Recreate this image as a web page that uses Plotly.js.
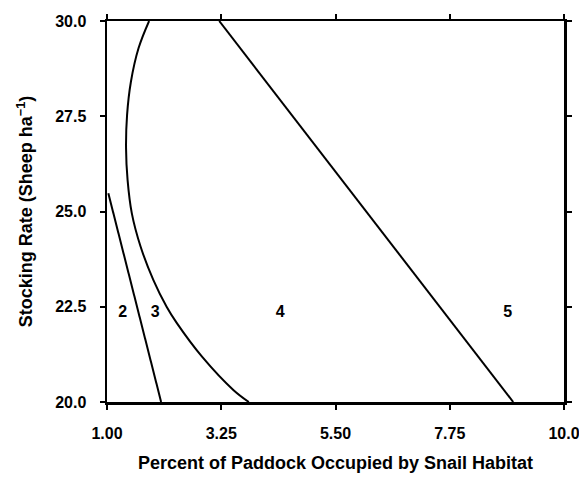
<!DOCTYPE html>
<html>
<head>
<meta charset="utf-8">
<script src="https://cdn.plot.ly/plotly-3.0.1.min.js"></script>
<style>html,body{margin:0;padding:0;background:#fff;}#chart{width:579px;height:478px;}</style>
</head>
<body>
<div id="chart"></div>
<script>
// Boundary between regions 2 and 3
const line2X = [1.026, 1.586, 2.066];
const line2Y = [25.48, 22.50, 20.00];
// Boundary between regions 3 and 4
const curve3X = [1.829, 1.622, 1.470, 1.395, 1.375, 1.405, 1.489, 1.661, 1.914, 2.174, 2.376, 2.871, 3.493, 3.793];
const curve3Y = [30.00, 29.29, 28.40, 27.53, 26.67, 25.83, 24.95, 24.08, 23.20, 22.50, 22.07, 21.19, 20.31, 20.00];
// Boundary between regions 4 and 5
const line4X = [3.21, 9.00];
const line4Y = [30.00, 20.00];
// Region labels
const regionLabels = ["2", "3", "4", "5"];
const regionLabelX = [1.31, 1.95, 4.41, 8.89];
const regionLabelY = [22.34, 22.34, 22.34, 22.34];
// Ticks
const xTickVals = [1.00, 3.25, 5.50, 7.75, 10.0];
const xTickText = ["1.00", "3.25", "5.50", "7.75", "10.0"];
const yTickVals = [20.0, 22.5, 25.0, 27.5, 30.0];
const yTickText = ["20.0", "22.5", "25.0", "27.5", "30.0"];

const FONT = "Liberation Sans, Arial, Helvetica, sans-serif";
const lineStyle = {color: "#000", width: 2};

const traces = [
  {x: line2X, y: line2Y, mode: "lines", line: lineStyle, hoverinfo: "skip"},
  {x: curve3X, y: curve3Y, mode: "lines", line: Object.assign({shape: "spline", smoothing: 1}, lineStyle), hoverinfo: "skip"},
  {x: line4X, y: line4Y, mode: "lines", line: lineStyle, hoverinfo: "skip"},
  {x: regionLabelX, y: regionLabelY, mode: "text", text: regionLabels,
   textfont: {family: FONT, size: 16, color: "#000", weight: "bold"}, hoverinfo: "skip"}
];

const axisCommon = {
  showgrid: false, zeroline: false, showline: true, linecolor: "#000", linewidth: 2.5,
  mirror: "ticks", ticks: "outside", ticklen: 5, tickwidth: 2, tickcolor: "#000",
  ticklabeloverflow: "allow",
  tickfont: {family: FONT, size: 16, color: "#000", weight: "bold"}
};

const layout = {
  width: 579, height: 478,
  margin: {l: 107, r: 15, t: 21, b: 76},
  paper_bgcolor: "#fff", plot_bgcolor: "#fff",
  showlegend: false,
  xaxis: Object.assign({}, axisCommon, {
    range: [1, 10], tickvals: xTickVals, ticktext: xTickText, ticklabelstandoff: 10,
    title: {text: "Percent of Paddock Occupied by Snail Habitat", standoff: 16,
            font: {family: FONT, size: 18, color: "#000", weight: "bold"}}
  }),
  yaxis: Object.assign({}, axisCommon, {
    range: [20, 30], tickvals: yTickVals, ticktext: yTickText, ticklabelstandoff: 10,
    title: {text: "Stocking Rate (Sheep ha<sup>−1</sup>)", standoff: 18,
            font: {family: FONT, size: 18, color: "#000", weight: "bold"}}
  })
};

Plotly.newPlot("chart", traces, layout, {staticPlot: true, displayModeBar: false});
</script>
</body>
</html>
